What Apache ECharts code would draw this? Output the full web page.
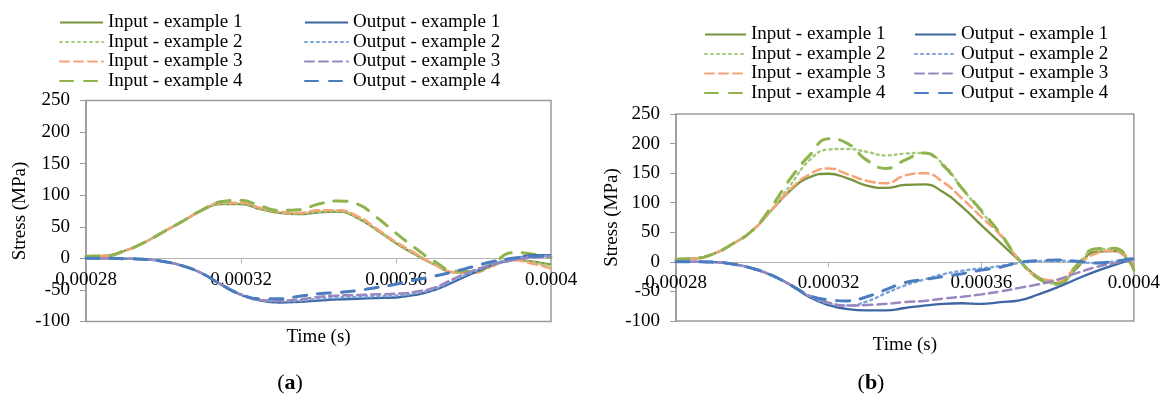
<!DOCTYPE html>
<html>
<head>
<meta charset="utf-8">
<script src="https://cdn.jsdelivr.net/npm/echarts@6/dist/echarts.min.js"></script>
<style>
  html, body { margin: 0; padding: 0; background: #fff; }
  #chart { width: 1163px; height: 403px; }
</style>
</head>
<body>
<div id="chart"></div>
<script>
// time (s)
var time = [0.00028, 0.000285, 0.00029, 0.000295, 0.0003, 0.000305, 0.00031, 0.000315,
  0.00032, 0.000325, 0.00033, 0.000335, 0.00034, 0.000345, 0.00035, 0.000355,
  0.00036, 0.000365, 0.00037, 0.000375, 0.00038, 0.000385, 0.00039, 0.000395, 0.0004];

// (a) stress (MPa)
var aIn1 = [3.5, 4, 12, 25, 42, 59, 76, 86, 86, 78, 72, 70, 73, 74, 64, 45, 24, 6, -10, -22, -22, -10, -2, -5, -10];
var aIn2 = [3.5, 4, 12, 25, 42, 59, 76, 87, 87, 79, 73, 71, 74, 75, 65, 46, 25, 7, -10, -22, -22, -11, -2, -6, -12];
var aIn3 = [3.5, 4, 12, 25, 42, 59, 77, 88, 88, 80, 74, 72, 76, 76, 67, 47, 26, 8, -10, -22, -23, -12, -3, -8, -16];
var aIn4 = [3.5, 4, 12, 25, 42, 59, 77, 90, 92, 83, 76, 77, 86, 91, 86, 65, 40, 16, -5, -20, -21, -8, 9, 7, 1];
var aOut1 = [0, 0, -0.5, -1.5, -5, -12, -24, -42, -58, -67, -70, -69, -67, -65, -64, -63, -62, -58, -50, -37, -23, -10, -3, 5, 5];
var aOut2 = [0, 0, -0.5, -1.5, -5, -12, -24, -42, -57, -66, -68, -67, -64, -62, -61, -60, -59, -55, -48, -34, -21, -9, -2, 3, 4];
var aOut3 = [0, 0, -0.5, -1.5, -5, -12, -24, -42, -57, -66, -67, -65, -61, -59, -58, -57, -56, -53, -46, -32, -19, -10, -3, 1, 3];
var aOut4 = [0, 0, -0.5, -1.5, -5, -12, -24, -42, -57, -64, -64, -60, -56, -54, -51, -46, -41, -34, -28, -21, -13, -5, 0, 3, 4];

// (b) stress (MPa)
var bIn1 = [4.5, 5.7, 14, 31, 53, 87, 121, 143, 149, 141, 129, 125, 130, 131, 118, 93, 62, 32, 2, -26, -36, -11, 17, 18, -13];
var bIn2 = [4.5, 5.7, 14, 31, 53, 88, 130, 172, 190, 191, 186, 180, 183, 184, 165, 124, 85, 47, 3, -28, -37, -8, 21, 22, -12];
var bIn3 = [4.5, 5.7, 14, 31, 53, 87, 123, 148, 158, 148, 137, 133, 146, 150, 135, 107, 76, 45, 3, -26, -32, -8, 14, 19, -8];
var bIn4 = [4.5, 5.7, 14, 31, 53, 93, 141, 180, 208, 200, 172, 158, 172, 184, 163, 124, 87, 48, 3, -28, -38, -6, 22, 23, -14];
var bOut1 = [0, 0, -0.5, -4, -11, -22.5, -39, -60, -73, -80, -82, -82, -78, -74, -71, -70, -71, -68, -65, -55, -43, -29, -16, -5, 5];
var bOut2 = [0, 0, -0.5, -4, -11, -22.5, -39, -58, -70, -74, -67, -53, -40, -30, -21, -15, -11, -7, -2, 1, 2, 0, -2, 1, 6];
var bOut3 = [0, 0, -0.5, -4, -11, -22.5, -39, -57, -69, -74, -73, -71, -68, -66, -62, -59, -55, -50, -44, -38, -30, -19, -9, -2, 4];
var bOut4 = [0, 0, -0.5, -4, -11, -22.5, -39, -57, -64, -66, -59, -47, -35, -30, -25, -20, -14, -9, -1, 2, 3, 1, -2, 1, 6];

var yTicks = { min: -100, max: 250, interval: 50 };
var xTicks = { min: 0.00028, max: 0.0004, interval: 0.00004 };

var inNames = ['Input - example 1', 'Input - example 2', 'Input - example 3', 'Input - example 4'];
var outNames = ['Output - example 1', 'Output - example 2', 'Output - example 3', 'Output - example 4'];

var font = "'Liberation Serif', 'Times New Roman', serif";

// line looks, same order as names
var inStyle = [
  { color: '#77933c', width: 2.3, type: 'solid' },
  { color: '#a6cb7c', width: 2.5, type: [2, 4] },
  { color: '#f6a377', width: 2.5, type: [9, 5] },
  { color: '#8fb34d', width: 3, type: [13, 11] }
];
var outStyle = [
  { color: '#3d66a3', width: 2.3, type: 'solid' },
  { color: '#7fa5d8', width: 2.5, type: [2, 4] },
  { color: '#9a87bd', width: 2.5, type: [9, 5] },
  { color: '#4a7dc0', width: 3, type: [13, 11] }
];

// plot boxes
var grids = [
  { left: 86, top: 100.5, width: 465, height: 221 },
  { left: 676, top: 114, width: 458, height: 207 }
];

function pairs(arr) {
  return time.map(function (t, i) { return [t, arr[i]]; });
}

function makeSeries(name, arr, st, idx) {
  return {
    name: name,
    type: 'line',
    xAxisIndex: idx,
    yAxisIndex: idx,
    data: pairs(arr),
    smooth: true,
    symbol: 'none',
    itemStyle: { color: st.color },
    lineStyle: { color: st.color, width: st.width, type: st.type, cap: st.type === 'solid' ? 'butt' : 'round' }
  };
}

var series = [];
[aIn1, aIn2, aIn3, aIn4].forEach(function (d, i) { series.push(makeSeries(inNames[i], d, inStyle[i], 0)); });
[aOut1, aOut2, aOut3, aOut4].forEach(function (d, i) { series.push(makeSeries(outNames[i], d, outStyle[i], 0)); });
[bIn1, bIn2, bIn3, bIn4].forEach(function (d, i) { series.push(makeSeries(inNames[i], d, inStyle[i], 1)); });
[bOut1, bOut2, bOut3, bOut4].forEach(function (d, i) { series.push(makeSeries(outNames[i], d, outStyle[i], 1)); });

// move the x axis up from the bottom edge to the zero line
function zeroOffset(g) {
  return -g.height * (0 - yTicks.min) / (yTicks.max - yTicks.min);
}

function xAxis(idx, gap) {
  return {
    gridIndex: idx,
    type: 'value',
    position: 'bottom',
    offset: zeroOffset(grids[idx]),
    min: xTicks.min,
    max: xTicks.max,
    interval: xTicks.interval,
    name: 'Time (s)',
    nameLocation: 'middle',
    nameGap: gap,
    nameTextStyle: { fontFamily: font, fontSize: 19, color: '#000' },
    axisLine: { onZero: false, lineStyle: { color: '#b4b4b4', width: 1 } },
    axisTick: { show: true, length: 5, lineStyle: { color: '#b4b4b4' } },
    axisLabel: {
      margin: 12, fontFamily: font, fontSize: 19, color: '#000',
      showMinLabel: true, showMaxLabel: true,
      formatter: function (v) { return String(+v.toFixed(5)); }
    },
    splitLine: { show: false }
  };
}

function yAxis(idx, gap) {
  return {
    gridIndex: idx,
    type: 'value',
    min: yTicks.min,
    max: yTicks.max,
    interval: yTicks.interval,
    name: 'Stress (MPa)',
    nameLocation: 'middle',
    nameRotate: 90,
    nameGap: gap,
    nameTextStyle: { fontFamily: font, fontSize: 19, color: '#000' },
    axisLine: { show: true, onZero: false, lineStyle: { color: '#9a9a9a', width: 1.5 } },
    axisTick: { show: true, length: 6, lineStyle: { color: '#9a9a9a' } },
    axisLabel: { margin: 16, fontFamily: font, fontSize: 19, color: '#000' },
    splitLine: { show: false }
  };
}

function legend(names, left, top, w) {
  return {
    data: names,
    orient: 'vertical',
    left: left,
    top: top,
    padding: 0,
    itemWidth: w,
    itemHeight: 10,
    itemGap: 0.5,
    selectedMode: false,
    itemStyle: { opacity: 0 },
    textStyle: { fontFamily: font, fontSize: 19, lineHeight: 19, color: '#000' }
  };
}

var chart = echarts.init(document.getElementById('chart'));
chart.setOption({
  backgroundColor: '#fff',
  animation: false,
  grid: grids.map(function (g) {
    return { left: g.left, top: g.top, width: g.width, height: g.height, show: true, borderColor: '#9a9a9a', borderWidth: 1.5 };
  }),
  legend: [
    legend(inNames, 59, 13, 43),
    legend(outNames, 304, 13, 43),
    legend(inNames, 704, 25, 41),
    legend(outNames, 914, 25, 41)
  ],
  xAxis: [xAxis(0, 69), xAxis(1, 74)],
  yAxis: [yAxis(0, 56), yAxis(1, 50)],
  series: series,
  graphic: [
    {
      type: 'text', x: 290, y: 383,
      style: {
        text: '({b|a})', fontFamily: font, fontSize: 22, fill: '#000',
        align: 'center', verticalAlign: 'middle',
        rich: { b: { fontFamily: font, fontSize: 22, fontWeight: 'bold', fill: '#000' } }
      }
    },
    {
      type: 'text', x: 871, y: 383,
      style: {
        text: '({b|b})', fontFamily: font, fontSize: 22, fill: '#000',
        align: 'center', verticalAlign: 'middle',
        rich: { b: { fontFamily: font, fontSize: 22, fontWeight: 'bold', fill: '#000' } }
      }
    }
  ]
});
</script>
</body>
</html>
